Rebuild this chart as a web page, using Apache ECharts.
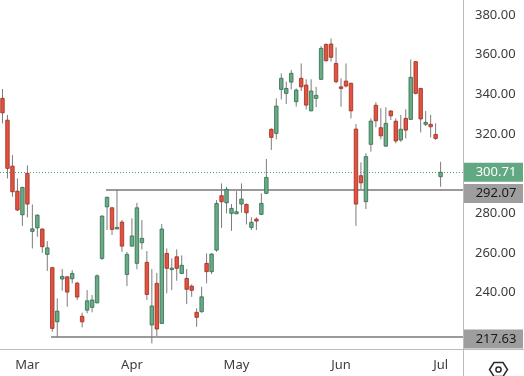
<!DOCTYPE html>
<html>
<head>
<meta charset="utf-8">
<script src="https://cdn.jsdelivr.net/npm/echarts@6/dist/echarts.min.js"></script>
<style>
  html, body { margin: 0; padding: 0; background: #fff; }
  #chart { width: 524px; height: 376px; }
</style>
</head>
<body>
<div id="chart"></div>
<script>
// --- daily candles (oldest first) ---
const opens = [
  338.0, 327.0, 303.8, 291.2, 279.3, 300.2, 270.9, 272.7, 272.1, 259.3,
  252.6, 225.3, 246.9, 248.0, 247.0, 244.8, 228.1, 231.2, 232.6, 234.9,
  257.3, 283.3, 282.8, 272.4, 275.6, 249.2, 263.5, 254.8, 265.2, 255.3,
  223.7, 244.7, 224.5, 259.8, 251.8, 258.1, 249.7, 247.2, 243.3, 230.1,
  230.4, 254.8, 250.6, 261.5, 288.9, 285.3, 280.0, 279.8, 284.7, 284.5,
  272.9, 277.1, 279.5, 290.1, 322.4, 320.3, 342.5, 340.5, 346.2, 336.3,
  348.1, 344.7, 331.7, 338.0, 347.6, 365.2, 365.4, 355.6, 343.8, 346.7,
  345.6, 322.5, 299.0, 285.9, 314.8, 334.5, 323.2, 313.9, 331.6, 326.5,
  317.0, 327.9, 327.4, 356.5, 343.0, 324.9, 324.9, 319.8, 298.5
];
const closes = [
  330.7, 302.7, 290.9, 281.7, 293.1, 284.7, 272.2, 279.1, 263.2, 262.6,
  222.0, 230.7, 248.2, 240.3, 249.7, 237.8, 225.3, 235.9, 236.3, 248.5,
  278.6, 288.1, 271.9, 272.9, 263.5, 259.3, 268.6, 282.8, 267.4, 239.1,
  233.3, 221.7, 272.1, 252.3, 252.4, 252.3, 253.8, 241.7, 241.2, 227.6,
  237.9, 250.6, 259.5, 285.0, 285.9, 292.1, 282.5, 280.8, 287.2, 280.3,
  275.5, 276.1, 285.0, 298.1, 318.3, 334.1, 348.1, 343.0, 350.6, 342.2,
  343.8, 334.6, 341.7, 339.5, 363.2, 357.0, 358.7, 346.4, 343.0, 344.2,
  331.7, 284.7, 295.4, 308.6, 326.5, 326.7, 319.1, 325.4, 329.2, 316.5,
  322.4, 322.0, 348.6, 340.5, 327.6, 325.9, 323.7, 317.8, 300.71
];
const highs = [
  342.7, 329.6, 309.4, 297.6, 293.4, 304.2, 284.5, 279.5, 272.4, 266.0,
  253.1, 237.1, 251.9, 248.3, 251.4, 245.5, 229.9, 241.3, 238.8, 249.2,
  279.1, 288.4, 283.3, 292.07, 276.6, 260.6, 277.5, 285.3, 276.6, 261.0,
  251.9, 250.0, 274.6, 262.3, 257.3, 261.8, 258.8, 251.9, 244.2, 232.1,
  243.0, 259.8, 259.8, 286.7, 295.1, 293.4, 284.7, 291.2, 295.1, 285.0,
  278.0, 278.0, 290.1, 307.4, 322.9, 338.0, 350.6, 346.4, 352.3, 343.0,
  355.6, 347.6, 347.6, 343.8, 364.4, 365.7, 368.2, 363.7, 348.1, 355.6,
  345.9, 325.0, 305.7, 310.3, 327.9, 336.0, 333.0, 333.5, 332.1, 327.9,
  329.6, 332.5, 357.6, 356.8, 343.3, 331.6, 329.6, 325.4, 306.0
];
const lows = [
  325.4, 297.6, 288.4, 281.2, 273.7, 278.0, 262.3, 268.2, 260.1, 251.0,
  220.3, 217.63, 241.0, 232.9, 244.7, 236.3, 222.5, 229.6, 230.1, 234.6,
  256.4, 271.6, 269.1, 272.0, 260.6, 243.3, 263.2, 251.8, 261.8, 236.3,
  214.4, 218.1, 224.2, 239.7, 241.3, 246.0, 249.4, 234.2, 237.9, 222.8,
  229.9, 244.7, 249.4, 260.6, 272.7, 280.0, 271.2, 279.6, 280.3, 274.4,
  271.6, 271.6, 279.1, 289.7, 311.9, 317.3, 337.5, 335.1, 342.5, 333.8,
  341.7, 332.4, 331.5, 333.5, 347.2, 356.5, 356.5, 345.6, 333.8, 343.5,
  327.9, 273.7, 292.1, 282.2, 311.1, 323.4, 317.3, 313.6, 327.1, 315.3,
  316.1, 317.8, 327.1, 340.0, 320.8, 324.0, 318.3, 317.0, 293.4
];

// --- horizontal levels ---
const lastPrice = 300.71;
const levelValues = [292.07, 217.63];
const levelStartBar = [20.8, 9.75];   // bar index where each level line begins

// --- axis ticks ---
const monthTicks = [5, 26, 47, 68, 88];
const monthNames = ['Mar', 'Apr', 'May', 'Jun', 'Jul'];
const priceTicks = [240, 260, 280, 320, 340, 360, 380];

const X_MIN = -0.5, X_MAX = 92.5;     // 4 empty bars of space on the right
const Y_MIN = 211.6, Y_MAX = 387.6;

const UP_FILL = '#6aab87', UP_EDGE = '#2e6c4b';
const DOWN_FILL = '#e2533f', DOWN_EDGE = '#9e2b1f';
const FRAME = '#bcbcbc';
const TEXT = '#3c3c3c';
const FONT = 'Noto Sans';

const candles = opens.map((o, i) => [i, o, closes[i], lows[i], highs[i]]);

const chart = echarts.init(document.getElementById('chart'), null, { renderer: 'canvas' });

function renderCandle(params, api) {
  const i = api.value(0);
  const o = api.value(1), c = api.value(2), l = api.value(3), h = api.value(4);
  const up = c >= o;
  const pHigh = api.coord([i, h]);
  const pLow = api.coord([i, l]);
  const pTop = api.coord([i, Math.max(o, c)]);
  const pBot = api.coord([i, Math.min(o, c)]);
  const w = api.size([1, 0])[0] * 0.7;
  const x = pHigh[0];
  return {
    type: 'group',
    children: [
      {
        type: 'line',
        shape: { x1: x, y1: pHigh[1], x2: x, y2: pLow[1] },
        style: { stroke: '#7c7c7c', lineWidth: 1 }
      },
      {
        type: 'rect',
        shape: { x: x - w / 2, y: pTop[1], width: w, height: Math.max(pBot[1] - pTop[1], 1.5) },
        style: { fill: up ? UP_FILL : DOWN_FILL, stroke: up ? UP_EDGE : DOWN_EDGE, lineWidth: 0.8 }
      }
    ]
  };
}

// price boxes on the axis: [value, background, text colour, vertical shift]
const boxes = [
  [lastPrice, '#62a882', '#ffffff', 0],
  [levelValues[0], '#9e9e9e', '#1a1a1a', 4],
  [levelValues[1], '#9e9e9e', '#1a1a1a', 2]
];

const option = {
  animation: false,
  backgroundColor: '#ffffff',
  grid: { left: 0, right: 61, top: 0, bottom: 27 },
  xAxis: {
    type: 'value',
    min: X_MIN,
    max: X_MAX,
    axisLine: { show: false },
    axisTick: { show: false },
    splitLine: { show: false },
    axisLabel: {
      customValues: monthTicks,
      formatter: (v) => monthNames[monthTicks.indexOf(v)] || '',
      color: TEXT,
      fontFamily: FONT,
      fontSize: 13,
      margin: 10
    }
  },
  yAxis: {
    type: 'value',
    position: 'right',
    min: Y_MIN,
    max: Y_MAX,
    axisLine: { show: false },
    axisTick: { show: false },
    splitLine: { show: false },
    axisLabel: {
      customValues: priceTicks,
      formatter: (v) => v.toFixed(2),
      color: TEXT,
      fontFamily: FONT,
      fontSize: 13,
      margin: 12
    }
  },
  series: [
    {
      type: 'custom',
      renderItem: renderCandle,
      encode: { x: 0, y: [1, 2, 3, 4] },
      data: candles,
      z: 3,
      markLine: {
        silent: true,
        symbol: ['none', 'none'],
        label: { show: false },
        z: 2,
        data: [
          { yAxis: lastPrice, lineStyle: { color: '#4f9f73', type: [1, 2], width: 1 } },
          [
            { coord: [levelStartBar[0], levelValues[0]], lineStyle: { color: '#9a9a9a', type: 'solid', width: 2 } },
            { coord: [X_MAX, levelValues[0]] }
          ],
          [
            { coord: [levelStartBar[1], levelValues[1]], lineStyle: { color: '#9a9a9a', type: 'solid', width: 2 } },
            { coord: [X_MAX, levelValues[1]] }
          ]
        ]
      },
      markPoint: {
        silent: true,
        symbol: 'rect',
        symbolSize: [60, 19],
        z: 10,
        data: boxes.map(([v, bg, fg, dy]) => ({
          coord: [X_MAX, v],
          value: v,
          symbolOffset: [30, dy],
          itemStyle: { color: bg },
          label: {
            show: true,
            position: 'inside',
            offset: [3, 0],
            formatter: (p) => p.value.toFixed(2),
            color: fg,
            fontFamily: FONT,
            fontSize: 13
          }
        }))
      }
    }
  ],
  graphic: [
    { type: 'line', shape: { x1: 463.5, y1: 0, x2: 463.5, y2: 376 }, style: { stroke: FRAME, lineWidth: 1 }, z: 20 },
    { type: 'line', shape: { x1: 0, y1: 349.5, x2: 524, y2: 349.5 }, style: { stroke: FRAME, lineWidth: 1 }, z: 20 },
    {
      type: 'group',
      left: 487,
      top: 360,
      children: [
        {
          type: 'polygon',
          shape: { points: [[0, 7], [4.5, 0], [13.5, 0], [18, 7], [13.5, 14], [4.5, 14]] },
          style: { fill: 'none', stroke: '#2a2a2a', lineWidth: 1.5 }
        },
        { type: 'circle', shape: { cx: 9, cy: 7, r: 2.6 }, style: { fill: 'none', stroke: '#2a2a2a', lineWidth: 1.5 } }
      ]
    }
  ]
};

chart.setOption(option);
</script>
</body>
</html>
